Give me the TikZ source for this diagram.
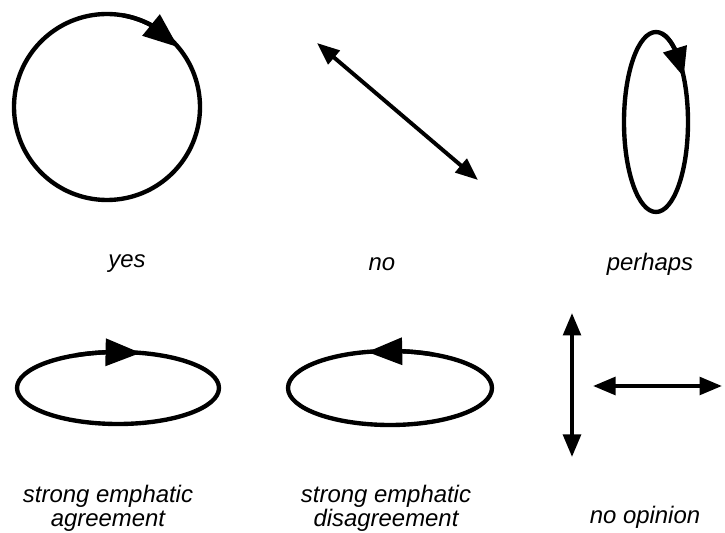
\documentclass[tikz,border=0pt]{standalone}
\usepackage{fontspec}
\setmainfont{Liberation Sans}
\usetikzlibrary{arrows.meta,bending}

\begin{document}
\begin{tikzpicture}[
    x=0.025cm, y=0.025cm,
    loopline/.style={line width=3.1pt},
    dbl/.style={line width=2.8pt,
      {Triangle[length=16pt,width=12.5pt]}-{Triangle[length=16pt,width=12.5pt]}},
    spinarrow/.style={line width=3.1pt, -{Triangle[length=25pt,width=19pt,flex]}},
    gesture/.style={font=\fontsize{17}{17}\selectfont\itshape, align=center},
  ]
  \useasboundingbox (0,0) rectangle (725,533);

  % Yes
  \draw[loopline] (107,426) circle[radius=93];
  \draw[spinarrow] (107,426) ++(80:93) arc[start angle=80, end angle=40, radius=93];
  \node[gesture] (yes) at (127,269) {yes};

  % No
  \coordinate (no-a) at (317,490);
  \coordinate (no-b) at (478,353);
  \draw[dbl] (no-a) -- (no-b);
  \node[gesture] (no) at (382,269) {no};

  % Perhaps
  \draw[loopline] (656,411) ellipse[x radius=32, y radius=90];
  \draw[spinarrow, -{Triangle[length=21pt,width=17pt,flex]}]
    (656,411) ++(80:32 and 90) arc[start angle=80, end angle=30, x radius=32, y radius=90];
  \node[gesture] (perhaps) at (650,269) {perhaps};

  % Strong emphatic agreement
  \draw[loopline] (118,145) ellipse[x radius=101, y radius=36];
  \draw[spinarrow] (118,145) ++(115:101 and 36) arc[start angle=115, end angle=77, x radius=101, y radius=36];
  \node[gesture] (agree) at (108,25) {strong emphatic\\agreement};

  % Strong emphatic disagreement
  \draw[loopline] (390,145) ellipse[x radius=102, y radius=37];
  \draw[spinarrow] (390,145) ++(65:102 and 37) arc[start angle=65, end angle=103, x radius=102, y radius=37];
  \node[gesture] (disagree) at (386,25) {strong emphatic\\disagreement};

  % No opinion
  \coordinate (up) at (572,220);
  \coordinate (down) at (572,76);
  \coordinate (left) at (593,147);
  \coordinate (right) at (722,147);
  \draw[dbl] (up) -- (down);
  \draw[dbl] (left) -- (right);
  \node[gesture] (noop) at (645,16) {no opinion};
\end{tikzpicture}
\end{document}
